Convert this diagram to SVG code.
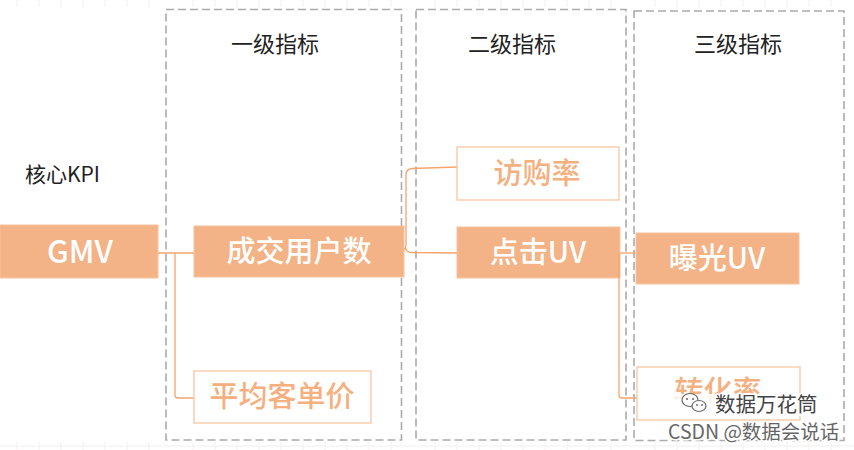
<svg xmlns="http://www.w3.org/2000/svg" width="854" height="450" viewBox="0 0 854 450">
<style>
.col{fill:none;stroke:#ababab;stroke-width:1.6;stroke-dasharray:8 4}
.hdr{font-family:"Noto Sans CJK SC","Noto Sans",sans-serif;font-size:22px;fill:#222;text-anchor:middle}
.fill rect{fill:#f3b386;stroke:#f6c29c;stroke-width:1}
.fill text{font-family:"Noto Sans CJK SC","Noto Sans",sans-serif;font-size:29px;fill:#fff;text-anchor:middle;font-weight:500}
.out rect{fill:#fff;stroke:#f8c7a2;stroke-width:1.3}
.out text{font-family:"Noto Sans CJK SC","Noto Sans",sans-serif;font-size:29px;fill:#f5b080;text-anchor:middle;font-weight:500}
.con path{fill:none;stroke:#f5a46c;stroke-width:1.3}
.grid line{stroke:#f6eef0;stroke-width:1}
.wm{font-family:"Noto Sans CJK SC","Noto Sans",sans-serif;paint-order:stroke;stroke:#fff;stroke-linejoin:round}
</style>
<rect width="854" height="450" fill="#fff"/>
<g class="grid">
<line x1="0" y1="446" x2="854" y2="446"/>
<line x1="17" y1="0" x2="17" y2="7"/><line x1="39" y1="0" x2="39" y2="7"/><line x1="61" y1="0" x2="61" y2="7"/><line x1="83" y1="0" x2="83" y2="7"/><line x1="105" y1="0" x2="105" y2="7"/><line x1="127" y1="0" x2="127" y2="7"/><line x1="149" y1="0" x2="149" y2="7"/><line x1="193" y1="0" x2="193" y2="7"/><line x1="215" y1="0" x2="215" y2="7"/><line x1="237" y1="0" x2="237" y2="7"/><line x1="259" y1="0" x2="259" y2="7"/><line x1="281" y1="0" x2="281" y2="7"/><line x1="303" y1="0" x2="303" y2="7"/><line x1="325" y1="0" x2="325" y2="7"/><line x1="347" y1="0" x2="347" y2="7"/><line x1="369" y1="0" x2="369" y2="7"/><line x1="391" y1="0" x2="391" y2="7"/><line x1="435" y1="0" x2="435" y2="7"/><line x1="457" y1="0" x2="457" y2="7"/><line x1="479" y1="0" x2="479" y2="7"/><line x1="501" y1="0" x2="501" y2="7"/><line x1="523" y1="0" x2="523" y2="7"/><line x1="545" y1="0" x2="545" y2="7"/><line x1="567" y1="0" x2="567" y2="7"/><line x1="589" y1="0" x2="589" y2="7"/><line x1="611" y1="0" x2="611" y2="7"/><line x1="655" y1="0" x2="655" y2="7"/><line x1="677" y1="0" x2="677" y2="7"/><line x1="699" y1="0" x2="699" y2="7"/><line x1="721" y1="0" x2="721" y2="7"/><line x1="743" y1="0" x2="743" y2="7"/><line x1="765" y1="0" x2="765" y2="7"/><line x1="787" y1="0" x2="787" y2="7"/><line x1="809" y1="0" x2="809" y2="7"/><line x1="831" y1="0" x2="831" y2="7"/>
<line x1="17" y1="442" x2="17" y2="450"/><line x1="39" y1="442" x2="39" y2="450"/><line x1="61" y1="442" x2="61" y2="450"/><line x1="83" y1="442" x2="83" y2="450"/><line x1="105" y1="442" x2="105" y2="450"/><line x1="127" y1="442" x2="127" y2="450"/><line x1="149" y1="442" x2="149" y2="450"/><line x1="193" y1="442" x2="193" y2="450"/><line x1="215" y1="442" x2="215" y2="450"/><line x1="237" y1="442" x2="237" y2="450"/><line x1="259" y1="442" x2="259" y2="450"/><line x1="281" y1="442" x2="281" y2="450"/><line x1="303" y1="442" x2="303" y2="450"/><line x1="325" y1="442" x2="325" y2="450"/><line x1="347" y1="442" x2="347" y2="450"/><line x1="369" y1="442" x2="369" y2="450"/><line x1="391" y1="442" x2="391" y2="450"/><line x1="435" y1="442" x2="435" y2="450"/><line x1="457" y1="442" x2="457" y2="450"/><line x1="479" y1="442" x2="479" y2="450"/><line x1="501" y1="442" x2="501" y2="450"/><line x1="523" y1="442" x2="523" y2="450"/><line x1="545" y1="442" x2="545" y2="450"/><line x1="567" y1="442" x2="567" y2="450"/><line x1="589" y1="442" x2="589" y2="450"/><line x1="611" y1="442" x2="611" y2="450"/><line x1="655" y1="442" x2="655" y2="450"/><line x1="677" y1="442" x2="677" y2="450"/><line x1="699" y1="442" x2="699" y2="450"/><line x1="721" y1="442" x2="721" y2="450"/><line x1="743" y1="442" x2="743" y2="450"/><line x1="765" y1="442" x2="765" y2="450"/><line x1="787" y1="442" x2="787" y2="450"/><line x1="809" y1="442" x2="809" y2="450"/><line x1="831" y1="442" x2="831" y2="450"/>
</g>
<g id="columns">
<rect class="col" x="166" y="9.5" width="235.5" height="430.5"/>
<rect class="col" x="416" y="9.5" width="210" height="430.5"/>
<rect class="col" x="634" y="11" width="210" height="429.5"/>
<text class="hdr" x="275" y="52">一级指标</text>
<text class="hdr" x="512" y="52">二级指标</text>
<text class="hdr" x="738" y="52">三级指标</text>
<text class="hdr" x="25" y="182" style="text-anchor:start;font-size:21px">核心KPI</text>
</g>
<g class="con" id="connectors">
<path d="M158,253 H194"/>
<path d="M175,253 V395 Q175,398 178,398 H194"/>
<path d="M404,249 Q406,249 406,244 V175 Q406,169 412,168.5 L457,167"/>
<path d="M404,249 Q406,249 406,249 Q406,252 412,252.5 L457,253"/>
<path d="M619,253 H636"/>
<path d="M619,253 V395 Q619,398 622,398 H637"/>
</g>
<g id="n-gmv" class="fill"><rect x="0" y="225" width="158" height="53"/><text x="80" y="263" style="font-size:31px">GMV</text></g>
<g id="n-cjyhs" class="fill"><rect x="194" y="226" width="210" height="51"/><text x="299" y="262">成交用户数</text></g>
<g id="n-pjkdj" class="out"><rect x="194" y="371" width="177" height="52"/><text x="282" y="407">平均客单价</text></g>
<g id="n-fgl" class="out"><rect x="457" y="147" width="162" height="53"/><text x="537" y="184">访购率</text></g>
<g id="n-djuv" class="fill"><rect x="457" y="227" width="163" height="51"/><text x="538" y="263">点击UV</text></g>
<g id="n-bguv" class="fill"><rect x="636" y="233" width="163" height="51"/><text x="717" y="269">曝光UV</text></g>
<g id="n-zhl" class="out"><rect x="637" y="367" width="163" height="53"/><text x="718" y="402">转化率</text></g>
<path d="M619,253 V278" fill="none" stroke="#f5a46c" stroke-width="1.3"/>
<g id="watermark">
<rect x="676" y="394" width="146" height="22" fill="#fff" opacity="0.85"/>
<ellipse cx="690" cy="400" rx="8" ry="6.5" fill="#fff" stroke="#666" stroke-width="1.2"/>
<ellipse cx="699" cy="406" rx="7" ry="5.5" fill="#fff" stroke="#666" stroke-width="1.2"/>
<circle cx="687" cy="399" r="1" fill="#666"/><circle cx="693" cy="399" r="1" fill="#666"/>
<circle cx="697" cy="405" r="0.9" fill="#666"/><circle cx="702" cy="405" r="0.9" fill="#666"/>
<text class="wm" x="715" y="412" font-size="20.5" fill="#444" stroke-width="3">数据万花筒</text>
<text class="wm" x="668" y="439" font-size="19.5" fill="#666" stroke-width="3">CSDN @数据会说话</text>
</g>
</svg>
